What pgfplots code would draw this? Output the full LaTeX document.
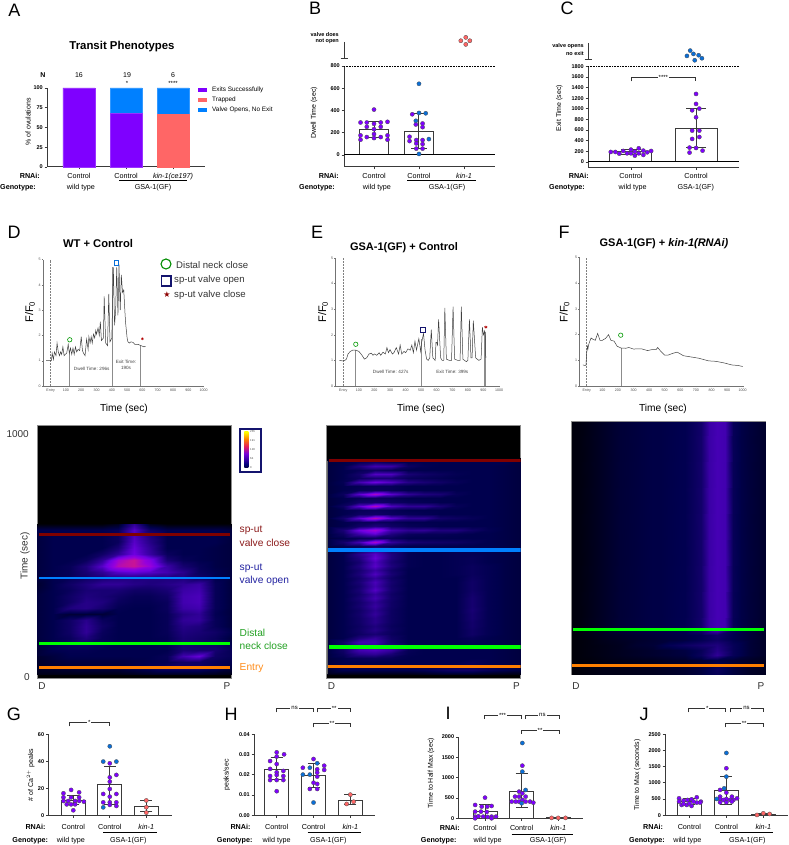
\documentclass[border=0pt]{standalone}
\usepackage{fontspec}
\setmainfont{Liberation Sans}
\newfontfamily\djv{DejaVu Sans}
\usepackage{pgfplots}
\pgfplotsset{compat=1.18}
\definecolor{pp}{HTML}{7F00FF}
\definecolor{bl}{HTML}{0A6FD8}
\definecolor{rd}{HTML}{FF6666}
\definecolor{cb}{HTML}{0080FF}
\definecolor{ax}{HTML}{3A3A3A}
\definecolor{navy2}{HTML}{14146E}
\definecolor{ovo}{HTML}{FF8000}
\newcommand\fs[1]{\fontsize{#1}{#1}\selectfont}
\newcommand\T[4][]{\node[inner sep=0pt,#1] at (#2,845-#3) {#4};}
\newcommand\br[4]{\draw[line width=.7pt,black!80] (#1,845-#3-4)--(#1,845-#3)--(#2,845-#3)--(#2,845-#3-4);
 \node[inner sep=1pt,fill=white,font=\fs{6}] at ({(#1+#2)/2},845-#3) {#4};}
\newcommand\ul[3]{\draw[line width=.7pt,black] (#1,845-#3)--(#2,845-#3);}
\pgfplotsset{
 colormap={fire}{rgb255(0)=(0,0,0) rgb255(1)=(0,0,78) rgb255(2)=(30,0,125) rgb255(3)=(65,0,175) rgb255(4)=(110,0,225) rgb255(5)=(150,0,220) rgb255(6)=(200,20,150) rgb255(7)=(240,60,70) rgb255(8)=(255,140,20) rgb255(9)=(255,220,50) rgb255(10)=(255,255,255)},
 bx/.style={scale only axis,axis x line*=bottom,axis y line*=left,clip=false,
  axis line style={line width=1pt,color=ax},tick style={line width=.8pt,color=ax},
  major tick length=2.5pt,tick align=outside,xtick={0,1,2},
  xticklabel style={font=\fs{7.2}},
  yticklabel style={font=\fs{5.5}\bfseries,inner sep=1.5pt},
  /pgf/number format/assume math mode=true,/pgf/number format/1000 sep={},scaled y ticks=false},
 trace/.style={scale only axis,axis x line*=bottom,axis y line*=left,clip=false,
  axis line style={line width=.5pt,color=black!55},tick style={line width=.4pt,color=black!55},
  major tick length=1.5pt,tick align=outside,ymin=0,ymax=5,xmax=1000,ytick={0,1,2,3,4,5},
  xtick={0,100,200,300,400,500,600,700,800,900,1000},
  xticklabels={Entry,100,200,300,400,500,600,700,800,900,1000},
  ticklabel style={font=\fs{3.6},inner sep=1pt,text=black!70},
  /pgf/number format/assume math mode=true,/pgf/number format/1000 sep={}},
 tl/.style={line width=.5pt,color=black!75},
 drop/.style={line width=.8pt,color=black!45},
 ent/.style={densely dotted,line width=.5pt,color=black!50},
 heat/.style={scale only axis,width=194pt,height=252.6pt,xtick=\empty,ytick=\empty,
  axis line style={line width=.8pt,color=black!45},axis background/.style={fill=black},
  colormap name=fire,point meta min=0,point meta max=10},
 hm/.style={surf,shader=interp,point meta=explicit},
 pd/.style={only marks,mark=*,mark size=2.1pt,mark options={fill=pp,draw=black!70,line width=.3pt}},
 bd/.style={only marks,mark=*,mark size=2.1pt,mark options={fill=bl,draw=black!70,line width=.3pt}},
 rdd/.style={only marks,mark=*,mark size=2.1pt,mark options={fill=rd,draw=black!70,line width=.3pt}},
 barw/.style={ybar,bar width=#1,fill=white,draw=ax,line width=1pt},
 eb/.style={draw=none,mark=none,error bars/y dir=both,error bars/y explicit,
  error bars/error bar style={line width=1pt,color=ax},
  error bars/error mark options={rotate=90,mark size=#1,line width=1pt,color=ax}},
 gl/.style={line width=1pt,color=black},
}
\pgfdeclareverticalshading{fireLUT}{100bp}{color(0bp)=(black); color(20bp)=(black); color(30bp)=(rgb,255:red,0;green,0;blue,120); color(45bp)=(rgb,255:red,120;green,0;blue,220); color(55bp)=(rgb,255:red,230;green,30;blue,90); color(65bp)=(orange); color(75bp)=(yellow); color(80bp)=(white); color(100bp)=(white)}
\begin{document}
\begin{tikzpicture}[x=1pt,y=1pt]
\path[use as bounding box] (0,0) rectangle (788,845);
% ---------- letters
\foreach \l/\x/\y in {A/14.5/10,B/315/8,C/567/8,D/14/232,E/317/232,F/564/232,G/14/714,H/231/714,I/448/713,J/644/714}{\T[font=\fs{18}]{\x}{\y}{\l}}
% ---------- A
\begin{axis}[bx,at={(47pt,845pt-167pt)},anchor=south west,width=158pt,height=79pt,xmin=-.68,xmax=2.68,ymin=0,ymax=100,ytick={0,25,50,75,100},
 ybar stacked,bar width=32pt,xticklabels={Control,Control,{\textit{kin-1(ce197)}}}]
\addplot[fill=pp,draw=pp!80!white] coordinates {(0,100)(1,68)(2,0)};
\addplot[fill=rd,draw=rd] coordinates {(0,0)(1,0)(2,67)};
\addplot[fill=cb,draw=cb!80!white] coordinates {(0,0)(1,32)(2,33)};
\end{axis}
\T[font=\fs{11.4}\bfseries]{122}{47}{Transit Phenotypes}
\T[font=\fs{7}\bfseries]{43}{75.5}{N}
\T[font=\fs{7}]{79}{75}{16}\T[font=\fs{7}]{127}{75}{19}\T[font=\fs{7}]{173}{75}{6}
\T[font=\fs{6}]{127}{83}{*}\T[font=\fs{6}]{173}{83}{****}
\T[font=\fs{7},rotate=90]{28}{122}{\% of ovulations}
\foreach \c/\y/\s in {pp/90/Exits Successfully,rd/100/Trapped,cb/110/{Valve Opens, No Exit}}{
 \fill[\c] (198.3,845-\y-2.3) rectangle (207.3,845-\y+2.3);
 \T[font=\fs{6.4},anchor=west]{212}{\y}{\s}}
\T[font=\fs{7.2}\bfseries,anchor=east]{40}{175.5}{RNAi:}
\T[font=\fs{7.2}\bfseries,anchor=west]{0}{187.3}{Genotype:}
\T[font=\fs{7.2}]{81}{187.3}{wild type}\T[font=\fs{7.2}]{153}{187.3}{GSA-1(GF)}
\ul{119}{187}{180.7}
% ---------- B
\begin{axis}[bx,at={(344pt,845pt-167pt)},anchor=south west,width=151pt,height=101pt,xmin=-.667,xmax=2.69,ymin=-108,ymax=800,ytick={0,200,400,600,800},
 xticklabels={Control,Control,{\textit{kin-1}}}]
\addplot[barw=29pt] coordinates {(0,225)(1,215)};
\addplot[gl] coordinates {(-.667,0)(2.69,0)};
\addplot[densely dotted,line width=.6pt,black] coordinates {(-.667,800)(2.69,800)};
\addplot[eb=8pt] coordinates {(0,225) +=(0,75) -=(0,65) (1,215) +=(0,160) -=(0,155)};
\addplot[pd] coordinates {(0,408)(-.30,292)(-.16,292)(.15,292)(.30,298)(0,280)(-.16,253)(.15,253)(0,232)(-.16,161)(.15,161)(0,188)(-.30,176)(.30,176)(-.30,137)(.30,137)(0,152)
 (.85,366)(.93,274)(1.08,283)(1.08,250)(.79,164)(.94,134)(1.08,134)(.79,125)(.94,104)(1.08,98)(.94,57)(1.08,57)};
\addplot[bd] coordinates {(1,640)(1,378)(1.15,375)(.93,307)(1.22,143)(1,9)};
\addplot[rdd] coordinates {(2.04,1057)(1.93,1027)(2.13,1027)(2.04,994)};
\end{axis}
\draw[line width=1pt,ax] (344,845-42)--(344,845-59) (340.5,845-59)--(347.5,845-59);
\T[font=\fs{5.5}\bfseries,anchor=east]{339}{34.3}{valve does}\T[font=\fs{5.5}\bfseries,anchor=east]{339}{41.7}{not open}
\T[font=\fs{7},rotate=90]{314}{113}{Dwell Time (sec)}
\T[font=\fs{7.2}\bfseries,anchor=east]{339}{175.5}{RNAi:}
\T[font=\fs{7.2}\bfseries,anchor=west]{299}{187.3}{Genotype:}
\T[font=\fs{7.2}]{377}{187.3}{wild type}\T[font=\fs{7.2}]{447}{187.3}{GSA-1(GF)}
\ul{407}{476}{180.7}
% ---------- C
\begin{axis}[bx,at={(588pt,845pt-167.3pt)},anchor=south west,width=151pt,height=101pt,xmin=-.66,xmax=1.66,ymin=-100,ymax=1800,ytick={0,200,400,600,800,1000,1200,1400,1600,1800},xtick={0,1},
 xticklabels={Control,Control}]
\addplot[barw=42pt] coordinates {(0,190)(1,625)};
\addplot[gl] coordinates {(-.66,0)(1.66,0)};
\addplot[densely dotted,line width=.6pt,black] coordinates {(-.66,1800)(1.66,1800)};
\addplot[eb=10pt] coordinates {(0,190) +=(0,40) -=(0,45) (1,625) +=(0,380) -=(0,360)};
\addplot[pd] coordinates {(-.31,188)(-.24,188)(-.18,157)(-.12,207)(-.06,163)(0,232)(.06,194)(.12,257)(.19,213)(.25,182)(.31,207)(0,163)(.12,163)(.06,119)(.19,132)
 (1,1280)(1,1092)(.94,972)(1.05,1004)(1,841)(.94,590)(1.05,590)(.94,433)(1.05,470)(.9,270)(1,263)(.9,176)(1.1,213)};
\addplot[bd] coordinates {(.91,2095)(.96,2033)(1.04,2008)(.86,1995)(1.09,1951)(.98,1913)};
\end{axis}
\draw[line width=1pt,ax] (588,845-43)--(588,845-60) (584.5,845-60)--(591.5,845-60);
\T[font=\fs{5.5}\bfseries,anchor=east]{584}{46}{valve opens}\T[font=\fs{5.5}\bfseries,anchor=east]{584}{54}{no exit}
\br{631}{695.7}{77.3}{****}
\T[font=\fs{7},rotate=90]{559.3}{108}{Exit Time (sec)}
\T[font=\fs{7.2}\bfseries,anchor=east]{589}{175.5}{RNAi:}
\T[font=\fs{7.2}\bfseries,anchor=west]{549}{187.3}{Genotype:}
\T[font=\fs{7.2}]{632.7}{187.3}{wild type}\T[font=\fs{7.2}]{695.7}{187.3}{GSA-1(GF)}
% ---------- D trace
\begin{axis}[trace,at={(43.3pt,845pt-386pt)},anchor=south west,width=160.3pt,height=126.3pt,xmin=-48]
\addplot[ent] coordinates {(0,0)(0,5)};
\addplot[drop] coordinates {(120,0)(120,1.35)};
\addplot[drop,line width=1.2pt] coordinates {(405,0)(405,4.7)};
\addplot[drop] coordinates {(590,0)(590,1.6)};
\addplot[tl] coordinates {(-30,1)(-10,1)(0,1)(5,1)(10,1.3)(18,1.05)(25,1.35)(35,1.2)(42,1.7)(50,1.35)(58,1.2)(65,1.35)(72,1.25)(80,1.55)(88,1.2)(95,1.25)(105,1.3)(115,1.65)(122,1.3)(130,1.5)(138,1.25)(146,1.5)(154,1.25)(162,1.55)(170,1.35)(180,1.45)(190,1.4)(200,1.95)(208,1.4)(215,1.3)(225,1.2)(235,1.85)(245,1.45)(250,1.95)(258,1.7)(265,1.95)(272,1.7)(280,2.05)(288,1.9)(295,2.2)(300,2.05)(310,2.3)(318,2)(325,2.55)(332,1.8)(345,1.9)(350,3.55)(360,1.7)(372,1.6)(380,3.65)(388,1.75)(400,1.9)(410,4.7)(418,2.4)(425,3)(432,4.7)(440,2.8)(447,4.8)(455,3)(462,4.4)(470,3.7)(478,3.8)(485,3)(490,2.5)(500,1.9)(505,1.75)(515,1.7)(525,1.75)(540,1.72)(550,1.65)(570,1.65)(590,1.6)(610,1.55)(620,1.57)};
\addplot[only marks,mark=o,mark size=2.2pt,mark options={draw=green!60!black,line width=.6pt}] coordinates {(125,1.83)};
\addplot[only marks,mark=square,mark size=2.2pt,mark options={draw=bl,line width=.6pt}] coordinates {(430,4.87)};
\addplot[only marks,mark=asterisk,mark size=1.4pt,mark options={draw=red!70!black,line width=.4pt}] coordinates {(600,1.87)};
\end{axis}
\T[font=\fs{11.2}\bfseries]{98}{244}{WT + Control}
\T[font=\fs{11},rotate=90]{30}{312}{F/F$_{\mathrm{0}}$}
\T[font=\fs{10.2}]{124}{409}{Time (sec)}
\T[font=\fs{4.6},text=black!75]{91.7}{369}{Dwell Time: 296s}
\T[font=\fs{4.6},text=black!75]{126}{362}{Exit Time:}\T[font=\fs{4.6},text=black!75]{126}{368}{190s}
\draw[green!55!black,line width=1.1pt] (166,845-264) circle (5);
\T[font=\fs{9.6},anchor=west,text=black!80]{176}{265}{Distal neck close}
\draw[navy2,line width=1.2pt] (161.3,845-286) rectangle (171,845-276);
\T[font=\fs{9.6},anchor=west,text=black!80]{174}{280}{sp-ut valve open}
\T[font=\fs{8}\djv,text=red!55!black]{167}{295}{★}
\T[font=\fs{9.6},anchor=west,text=black!80]{174}{295}{sp-ut valve close}
% ---------- E trace
\begin{axis}[trace,at={(335.7pt,845pt-386pt)},anchor=south west,width=163.3pt,height=128pt,xmin=-49]
\addplot[ent] coordinates {(0,0)(0,5)};
\addplot[drop] coordinates {(78,0)(78,1.4)};
\addplot[drop] coordinates {(503,0)(503,1.85)};
\addplot[drop,line width=1.2pt] coordinates {(910,0)(910,2.1)};
\addplot[tl] coordinates {(-25,1)(-5,.98)(10,1)(20,1.05)(30,1.25)(45,1.35)(60,1.4)(80,1.4)(100,1.35)(120,1.2)(135,1.05)(150,1.1)(165,1.25)(180,1.28)(190,1.2)(200,1.25)(215,1.2)(230,1.3)(240,1.2)(255,1.32)(270,1.25)(280,1.5)(290,1.3)(300,1.42)(315,1.25)(325,1.3)(340,1.5)(355,1.25)(365,1.6)(375,1.25)(390,1.35)(400,1.3)(415,1.45)(430,1.4)(440,1.6)(450,1.3)(460,1.75)(470,1.4)(485,1.85)(497,1.35)(503,1.7)(515,2.05)(525,1.4)(535,1.05)(545,1)(555,1.1)(565,2.2)(575,1.1)(590,1)(595,1.7)(600,1.7)(605,1.6)(612,2.6)(625,1.1)(635,1)(645,1)(652,3.05)(662,1.05)(680,1)(695,1)(705,3.1)(715,1.05)(735,1)(750,1)(758,3.1)(768,1.05)(790,.95)(800,1)(810,2.6)(820,1.1)(827,1.1)(835,2.55)(850,1.1)(870,1)(885,1.05)(893,2.3)(900,2)(908,2.15)(913,1.9)(915,1.1)};
\addplot[only marks,mark=o,mark size=2.2pt,mark options={draw=green!60!black,line width=.6pt}] coordinates {(80,1.63)};
\addplot[only marks,mark=square,mark size=2.2pt,mark options={draw=navy2,line width=.6pt}] coordinates {(510,2.2)};
\addplot[only marks,mark=asterisk,mark size=1.6pt,mark options={draw=red!70!black,line width=.5pt}] coordinates {(915,2.3)};
\end{axis}
\T[font=\fs{11}\bfseries]{404}{248}{GSA-1(GF) + Control}
\T[font=\fs{11},rotate=90]{323}{312}{F/F$_{\mathrm{0}}$}
\T[font=\fs{10.2}]{421}{409}{Time (sec)}
\T[font=\fs{4.6},text=black!75]{390.7}{372}{Dwell Time: 427s}
\T[font=\fs{4.6},text=black!75]{452.3}{372}{Exit Time: 399s}
% ---------- F trace
\begin{axis}[trace,at={(579.7pt,845pt-386pt)},anchor=south west,width=163pt,height=128.3pt,xmin=-45]
\addplot[ent] coordinates {(0,0)(0,5)};
\addplot[drop] coordinates {(222,0)(222,1.5)};
\addplot[tl] coordinates {(-25,.82)(-10,.8)(-5,.8)(0,1.3)(5,1.55)(8,1.45)(12,1.6)(20,1.75)(28,1.87)(40,1.82)(55,1.78)(70,2.05)(85,1.78)(100,1.78)(120,1.85)(140,2)(155,1.78)(175,1.75)(195,1.55)(220,1.48)(250,1.47)(270,1.5)(300,1.44)(350,1.45)(390,1.38)(420,1.42)(445,1.42)(455,1.5)(475,1.35)(500,1.2)(520,1.2)(550,1.27)(580,1.32)(620,1.18)(680,1.12)(720,1.08)(780,.98)(830,.96)(880,.9)(930,.82)(970,.8)(1000,.76)};
\addplot[only marks,mark=o,mark size=2.2pt,mark options={draw=green!60!black,line width=.6pt}] coordinates {(218,1.98)};
\end{axis}
\T[font=\fs{11}\bfseries]{664}{244}{GSA-1(GF) + \textit{kin-1(RNAi)}}
\T[font=\fs{11},rotate=90]{564.5}{312}{F/F$_{\mathrm{0}}$}
\T[font=\fs{10.2}]{663}{409}{Time (sec)}
% ---------- heat D
\begin{axis}[heat,at={(37.3pt,845pt-678.3pt)},anchor=south west,xmin=0,xmax=12,ymin=-16.7,ymax=1036]
\addplot[hm,mesh/cols=13] table[row sep=crcr,header=false,x expr={mod(\coordindex,13)},y expr={625-25*floor(\coordindex/13)},meta index=0]{
.1\\.1\\.1\\.1\\.1\\.4\\2.5\\.4\\.1\\.1\\.1\\.1\\.1\\
1\\1\\1\\1\\1\\1.2\\3.5\\1.5\\1\\1\\1\\1\\.8\\
.8\\1\\1\\1\\1\\1.3\\3.3\\2\\1\\1\\1\\1\\.8\\
.8\\1\\1\\1\\1\\1.3\\3.5\\2.2\\1\\1\\1\\1\\.8\\
.8\\1\\1\\1\\1\\1.8\\3.8\\2.5\\1\\1\\1\\.9\\.8\\
.8\\1\\1\\1\\1.5\\2.5\\4\\2.7\\1.3\\1\\1\\.9\\.8\\
.8\\1\\1\\1.3\\2.5\\5.2\\6\\4.5\\1.8\\1.2\\1\\.9\\.8\\
.8\\1\\1.2\\2\\3.5\\5.6\\6\\5\\2.8\\1.7\\1.2\\.9\\.8\\
.8\\1\\1.2\\1.8\\2.5\\3.5\\3.8\\3.5\\3\\2.3\\1.3\\1\\.8\\
.8\\1\\1.2\\1.5\\1.8\\2\\2\\2\\2\\2\\1.5\\1\\.8\\
.6\\1\\1.5\\2\\2.5\\2.5\\2.2\\2\\2.2\\2.5\\2.8\\1.2\\.8\\
.6\\1\\1.3\\1.8\\1.8\\1.8\\1.5\\1.5\\1.8\\2.8\\3\\1.2\\.8\\
.8\\1\\1.5\\2\\1.8\\1.5\\1.2\\1.2\\1.5\\3\\3.2\\1.2\\.8\\
.8\\1\\1.5\\2.2\\2\\1.3\\1.1\\1.1\\1.3\\3\\3.2\\1.2\\.8\\
.8\\1\\2\\2.2\\1.7\\1.1\\1\\1\\1.3\\2.8\\3\\1.2\\.8\\
.8\\1\\.7\\.7\\.7\\1\\1\\1\\1.2\\2.2\\2.5\\1.1\\.8\\
.8\\1\\1.5\\2.3\\1.3\\1\\1\\1\\1.2\\2.5\\2.6\\1.2\\.8\\
.8\\1\\1.5\\2.5\\1.5\\1\\1\\1\\1.2\\2.2\\2\\1.2\\.8\\
.8\\1\\1.5\\2.5\\1.3\\1\\1\\1\\1.2\\2\\1.8\\1.5\\1\\
.8\\1\\1.3\\2\\1.2\\1\\1\\1\\1.1\\1.8\\1.6\\1.3\\.8\\
.7\\1\\1.3\\1.4\\1.2\\1\\1\\1\\1.1\\1.8\\1.6\\1.5\\1\\
.7\\1\\1.1\\1.1\\1\\1\\1\\1\\1\\1.8\\1.7\\1.7\\1.2\\
.7\\.8\\1\\1\\1\\1\\1\\1\\1.2\\3\\3.8\\1.5\\1.2\\
.6\\.7\\.8\\.8\\.8\\.8\\.9\\1\\1.1\\1.5\\1.5\\1.2\\1\\
.5\\.6\\.7\\.8\\.8\\.8\\1\\1.2\\1.5\\1.5\\1.5\\1.2\\.8\\
.3\\.3\\.3\\.3\\.3\\.3\\.4\\.5\\.5\\.5\\.5\\.4\\.3\\
};
\addplot[line width=2.6pt,color=red!50!black] coordinates {(.13,583)(11.95,583)};
\addplot[line width=2.6pt,color=cb] coordinates {(.13,401)(11.95,401)};
\addplot[line width=2.6pt,color=green] coordinates {(.13,129)(11.95,129)};
\addplot[line width=2.6pt,color=ovo] coordinates {(.13,29)(11.95,29)};
\end{axis}
\fill[navy2] (239,845-473.3) rectangle (261.7,845-428.3);
\fill[white] (241,845-471.5) rectangle (259.5,845-430);
\shade[shading=fireLUT] (244.3,845-468) rectangle (248.3,845-432);
\foreach \v/\y in {255/432,191/441,128/450,64/459,0/468}{\T[font=\fs{2.8},anchor=west,text=black!70]{250}{\y}{\v}}
\T[font=\fs{10},anchor=east,text=black!80]{29}{434}{1000}
\T[font=\fs{10},anchor=east,text=black!80]{30}{677}{0}
\T[font=\fs{10},rotate=90,text=black!80]{25}{556}{Time (sec)}
\T[font=\fs{10},text=black!80]{42}{686}{D}\T[font=\fs{10},text=black!80]{227}{686}{P}
\definecolor{lr}{HTML}{8B1A1A}\definecolor{lb}{HTML}{2222A0}\definecolor{lg}{HTML}{22A022}\definecolor{lo}{HTML}{FF8C1A}
\T[font=\fs{10.2},anchor=west,text=lr]{239.5}{530}{sp-ut}\T[font=\fs{10.2},anchor=west,text=lr]{239.5}{543}{valve close}
\T[font=\fs{10.2},anchor=west,text=lb]{239.5}{568}{sp-ut}\T[font=\fs{10.2},anchor=west,text=lb]{239.5}{581}{valve open}
\T[font=\fs{10.2},anchor=west,text=lg]{239.5}{633}{Distal}\T[font=\fs{10.2},anchor=west,text=lg]{239.5}{646}{neck close}
\T[font=\fs{10.2},anchor=west,text=lo]{239.5}{668}{Entry}
% ---------- heat E
\begin{axis}[heat,at={(326.7pt,845pt-678.3pt)},anchor=south west,xmin=0,xmax=12,ymin=-16.7,ymax=1036]
\addplot[hm,mesh/cols=13] table[row sep=crcr,header=false,x expr={mod(\coordindex,13)},y expr={900-16.667*floor(\coordindex/13)},meta index=0]{
.1\\.1\\.1\\.1\\.1\\.1\\.1\\.1\\.1\\.1\\.1\\.1\\.1\\
.8\\.9\\1.2\\1.5\\1.2\\1\\1\\1\\1\\1\\1\\1\\.8\\
.8\\1\\2\\3\\2.8\\1.4\\1.1\\1\\1\\1\\1\\.9\\.8\\
.8\\1\\1.2\\1.5\\1.3\\1\\1\\1\\1\\1\\1\\.9\\.8\\
.8\\1\\1.6\\3.4\\3.3\\1.8\\1.5\\1.3\\1.1\\1\\1\\.9\\.8\\
.8\\1\\1.4\\1.8\\1.8\\1.3\\1.2\\1.1\\1\\1\\1\\.9\\.8\\
.8\\1.1\\3\\4\\3.4\\2.2\\1.8\\1.5\\1.2\\1\\1\\.9\\.8\\
.8\\1\\1.1\\1.2\\1.2\\1\\1\\1\\1\\1\\1\\.9\\.8\\
.8\\1\\1.2\\1.3\\1.2\\1\\1\\1\\1\\1\\1\\.9\\.8\\
.8\\1.3\\3.6\\5.4\\3.6\\2.5\\2\\1.8\\1.2\\1\\1\\.9\\.8\\
.8\\1\\1.2\\1.3\\1.2\\1\\1\\1\\1\\1\\1\\.9\\.8\\
.8\\1\\1.5\\1.6\\1.4\\1.2\\1.1\\1\\1\\1\\1\\.9\\.8\\
.8\\1.4\\3.6\\5.6\\3.3\\2.5\\2.5\\1.8\\1.2\\1\\1\\.9\\.8\\
.8\\1\\1.2\\1.3\\1.2\\1\\1\\1\\1\\1\\1\\.9\\.8\\
.8\\1\\1.4\\1.5\\1.3\\1.2\\1.1\\1\\1\\1\\1\\.9\\.8\\
.8\\1.6\\3.6\\5.6\\3.6\\2.5\\2.5\\1.6\\1.4\\1.2\\1\\.9\\.8\\
.8\\1\\1.2\\1.3\\1.2\\1\\1\\1\\1\\1\\1\\.9\\.8\\
.8\\1\\1.5\\2\\1.5\\1.2\\1.1\\1\\1\\1\\1\\.9\\.8\\
.8\\1.8\\4\\5.2\\3\\2.4\\2.5\\2\\2\\1.5\\1.1\\.9\\.8\\
.8\\1.4\\2.8\\3.6\\2\\1.3\\1.2\\1.2\\1.1\\1\\1\\.9\\.8\\
.8\\1\\1.2\\1.4\\1.3\\1\\1\\1\\1\\1\\1\\.9\\.8\\
.8\\1.6\\3\\5.4\\2.6\\1.8\\1.6\\1.5\\1.4\\1.2\\1\\.9\\.8\\
.8\\1\\1.2\\1.5\\1.2\\1\\1\\1\\1\\1\\1\\.9\\.8\\
.8\\1\\1.5\\2.5\\1.5\\1.1\\1\\1\\1.1\\1.1\\1\\.9\\.8\\
.8\\1\\2.3\\3.5\\2\\1.1\\1\\1\\1.1\\1.1\\1\\.9\\.8\\
.8\\1\\2\\3.8\\2\\1.1\\1\\1\\1.1\\1.2\\1\\.9\\.8\\
.8\\1\\1.7\\3.3\\1.8\\1.1\\1\\1\\1.1\\1.2\\1\\.9\\.8\\
.8\\1\\2\\3.5\\2\\1.1\\1\\1\\1.1\\1.3\\1.1\\.9\\.8\\
.8\\1\\1.7\\2.8\\1.6\\1\\1\\1\\1.1\\1.3\\1.1\\.9\\.8\\
.8\\1\\1.9\\3.3\\1.8\\1\\1\\1\\1.1\\1.3\\1.1\\.9\\.8\\
.8\\1\\1.6\\2.6\\1.5\\1\\1\\1\\1\\1.4\\1.1\\.9\\.8\\
.8\\1\\1.8\\3.2\\1.7\\1\\1\\1\\1\\1.5\\1.1\\.9\\.8\\
.8\\1\\1.6\\3\\1.6\\1\\1\\1\\1\\1.5\\1.1\\.9\\.8\\
.8\\1\\1.8\\3.4\\1.7\\1\\1\\1\\1\\1.5\\1.1\\.9\\.8\\
.8\\1\\1.6\\2.7\\1.5\\1\\1\\1\\1\\1.6\\1.1\\.9\\.8\\
.8\\1\\1.8\\3\\1.6\\1\\1\\1\\1\\1.7\\1.1\\.9\\.8\\
.8\\1\\1.6\\2.5\\1.5\\1\\1\\1\\1\\1.7\\1.1\\.9\\.8\\
.8\\1\\1.7\\2.7\\1.5\\1\\1\\1\\1\\1.7\\1.1\\.9\\.8\\
.8\\1\\1.5\\2.4\\1.4\\1\\1\\1\\1\\1.8\\1.1\\.9\\.8\\
.8\\1\\1.6\\2.6\\1.4\\1\\1\\1\\1\\1.7\\1.1\\.9\\.8\\
.8\\1\\1.5\\2.3\\1.4\\1\\1\\1\\1\\1.7\\1.1\\.9\\.8\\
.8\\1\\1.5\\2.3\\1.4\\1\\1\\1\\1\\1.6\\1.1\\.9\\.8\\
.8\\1\\1.4\\2\\1.3\\1\\1\\1\\1\\1.6\\1.1\\.9\\.8\\
.8\\1\\1.5\\2.2\\1.4\\1\\1\\1\\1\\1.5\\1.1\\.9\\.8\\
.8\\1\\1.4\\1.8\\1.3\\1\\1\\1\\1\\1.5\\1.1\\.9\\.8\\
.8\\1\\2\\2.6\\1.5\\1\\1\\1\\1\\1.2\\1\\.9\\.8\\
.8\\1.5\\3\\3\\1.6\\1\\1\\1\\1\\1.1\\1\\.9\\.8\\
.8\\1.3\\2.5\\2.7\\2\\1.1\\1\\1\\1\\1\\1\\.9\\.8\\
.8\\1.5\\3\\3.3\\2.7\\1.2\\1\\1\\1\\1\\1\\.9\\.8\\
.8\\1.3\\2.3\\2.5\\1.8\\1.1\\1\\1\\1\\1\\1\\.9\\.8\\
.8\\1\\1.2\\1.3\\1.2\\1\\1\\1\\1\\1\\1\\.9\\.8\\
.8\\1\\1\\1\\1\\1\\1\\1\\1\\1.2\\1\\.9\\.8\\
.8\\1\\1\\1\\1\\1\\1\\1\\1.1\\1.2\\1\\.9\\.8\\
.8\\1\\1\\1\\1\\1\\1.1\\1.3\\1.5\\1.5\\1.2\\1\\.8\\
.3\\.3\\.3\\.3\\.3\\.3\\.4\\.5\\.5\\.5\\.4\\.3\\.3\\
};
\addplot[line width=1pt,color=black!60] coordinates {(0.06,0)(0.06,890)};
\addplot[line width=3.4pt,color=red!50!black] coordinates {(.13,891)(12,891)};
\addplot[line width=3.4pt,color=cb] coordinates {(.06,518)(12,518)};
\addplot[line width=3.4pt,color=green] coordinates {(.13,113)(12,113)};
\addplot[line width=3.4pt,color=ovo] coordinates {(.06,33)(12,33)};
\end{axis}
\T[font=\fs{10},text=black!80]{331.5}{686}{D}\T[font=\fs{10},text=black!80]{516.5}{686}{P}
% ---------- heat F
\begin{axis}[heat,at={(571.7pt,845pt-674.3pt)},anchor=south west,xmin=0,xmax=24,ymin=0,ymax=1052.8,height=252.6pt]
\addplot[hm,mesh/cols=25] table[row sep=crcr,header=false,x expr={mod(\coordindex,25)},y expr={1052.8-(1052.8-185)*floor(\coordindex/25)},meta index=0]{
.15\\.2\\.3\\.4\\.5\\.6\\.7\\.75\\.8\\.85\\.9\\.9\\.95\\1\\1.05\\1.3\\1.6\\2.8\\3.1\\3\\1.2\\.9\\.75\\.65\\.55\\
.15\\.2\\.3\\.4\\.5\\.6\\.7\\.75\\.8\\.85\\.9\\.9\\.95\\1\\1.05\\1.3\\1.6\\2.8\\3.1\\3\\1.2\\.9\\.75\\.65\\.55\\
};
\addplot[hm,mesh/cols=13] table[row sep=crcr,header=false,x expr={2*mod(\coordindex,13)},y expr={185-20.83*floor(\coordindex/13)},meta index=0]{
.15\\.3\\.5\\.7\\.8\\.9\\.95\\1.05\\1.6\\3.1\\1.2\\.75\\.55\\
.1\\.25\\.4\\.5\\.6\\.7\\.8\\.9\\1.1\\1.6\\1\\.7\\.5\\
.1\\.2\\.35\\.45\\.55\\.65\\.75\\.85\\1.1\\1.5\\1\\.7\\.5\\
.1\\.2\\.3\\.4\\.6\\.7\\1.1\\1.4\\1.7\\2\\1.2\\.7\\.5\\
.1\\.2\\.3\\.4\\.5\\.6\\.7\\.85\\1.2\\2.2\\1.2\\.7\\.5\\
.1\\.2\\.3\\.4\\.5\\.6\\.7\\.8\\1.3\\2.5\\1.2\\.7\\.5\\
.1\\.15\\.25\\.3\\.35\\.4\\.5\\.55\\.7\\.9\\.7\\.5\\.4\\
.1\\.15\\.25\\.3\\.35\\.4\\.5\\.55\\.7\\1\\.7\\.5\\.4\\
.1\\.2\\.3\\.3\\.35\\.4\\.5\\.6\\.8\\1.3\\.8\\.5\\.4\\
.1\\.2\\.3\\.3\\.35\\.4\\.5\\.6\\.8\\1.2\\.8\\.5\\.4\\
};
\addplot[line width=3.3pt,color=green] coordinates {(.15,188)(23.8,188)};
\addplot[line width=3.3pt,color=ovo] coordinates {(0,37)(23.8,37)};
\end{axis}
\T[font=\fs{10},text=black!80]{576}{686}{D}\T[font=\fs{10},text=black!80]{761}{686}{P}
% ---------- G
\begin{axis}[bx,at={(48.3pt,845pt-815.3pt)},anchor=south west,width=123.4pt,height=81pt,xmin=-.685,xmax=2.696,ymin=0,ymax=60,ytick={0,20,40,60},
 xticklabels={Control,Control,{\textit{kin-1}}},xticklabel style={yshift=-3pt}]
\addplot[barw=24pt] coordinates {(0,11)(1,22.5)(2,6.5)};
\addplot[eb=6pt] coordinates {(0,11) +=(0,3.5) -=(0,3) (1,22.5) +=(0,14) -=(0,14.5) (2,6.5) +=(0,4.5) -=(0,4)};
\addplot[pd] coordinates {(-.06,18.8)(-.27,16.3)(.16,17)(-.27,13.3)(-.06,13.3)(.16,13.3)(-.27,10.6)(-.14,10.6)(.05,10.6)(.16,10.6)(.29,10.1)(-.18,8.1)(-.06,8.1)(.05,8.1)(0,3.7)
 (1,38.5)(1.18,29.9)(1,28.1)(1,24.9)(1,19.5)(.82,15.8)(1.18,15.8)(1,13.8)(.82,9.6)(1,9.6)(1.18,9.6)(1,7.7)(1.18,6.9)};
\addplot[bd] coordinates {(1,51.1)(.82,39.8)(1.18,39.8)(.82,5.9)};
\addplot[rdd] coordinates {(2,11)(2,6)(2,2)};
\end{axis}
\br{69.3}{109.3}{722.3}{*}
\T[font=\fs{7},rotate=90]{30.7}{775}{\# of Ca$^{2+}$ peaks}
\T[font=\fs{7.2}\bfseries,anchor=east]{45.7}{826.7}{RNAi:}
\T[font=\fs{7.2}\bfseries,anchor=west]{12.3}{840.3}{Genotype:}
\T[font=\fs{7.2}]{71}{840.3}{wild type}\T[font=\fs{7.2}]{128.3}{840.3}{GSA-1(GF)}
\ul{103}{157}{832}
% ---------- H
\begin{axis}[bx,at={(254pt,845pt-815.3pt)},anchor=south west,width=121pt,height=81pt,xmin=-.617,xmax=2.67,ymin=0,ymax=.04,ytick={0,.01,.02,.03,.04},
 xticklabels={Control,Control,{\textit{kin-1}}},xticklabel style={yshift=-3pt},yticklabel style={/pgf/number format/fixed,/pgf/number format/precision=2,/pgf/number format/fixed zerofill}]
\addplot[barw=24pt] coordinates {(0,.0225)(1,.0195)(2,.0075)};
\addplot[eb=6pt] coordinates {(0,.0225) +=(0,.006) -=(0,.005) (1,.0195) +=(0,.006) -=(0,.006) (2,.0075) +=(0,.003) -=(0,.002)};
\addplot[pd] coordinates {(0,.0311)(0,.029)(.2,.0301)(-.18,.0268)(0,.0253)(-.18,.0229)(0,.0212)(.18,.0219)(-.18,.0194)(.18,.0194)(0,.0199)(-.18,.0174)(0,.0174)(.18,.0174)(0,.0119)
 (1,.0278)(.71,.0235)(1.29,.0245)(1.29,.0224)(1.1,.0227)(1.1,.0211)(1.1,.0191)(1,.0161)(1.1,.0155)(.9,.013)(1.1,.013)};
\addplot[bd] coordinates {(.9,.0235)(1.1,.0257)(.71,.0201)(.9,.0201)(1,.0063)};
\addplot[rdd] coordinates {(2,.0102)(2.09,.0067)(1.9,.0056)};
\end{axis}
\br{276}{313.3}{708.3}{ns}\br{317.7}{350.7}{708.3}{**}\br{313.3}{350.7}{723.3}{**}
\T[font=\fs{7},rotate=90]{226.7}{775}{peaks/sec}
\T[font=\fs{7.2}\bfseries,anchor=east]{250.7}{826.7}{RNAi:}
\T[font=\fs{7.2}\bfseries,anchor=west]{216.7}{840.3}{Genotype:}
\T[font=\fs{7.2}]{276.7}{840.3}{wild type}\T[font=\fs{7.2}]{328.3}{840.3}{GSA-1(GF)}
\ul{307.7}{360.7}{832}
% ---------- I
\begin{axis}[bx,at={(458.3pt,845pt-818.3pt)},anchor=south west,width=125pt,height=81.3pt,xmin=-.73,xmax=2.686,ymin=0,ymax=2000,ytick={0,500,1000,1500,2000},
 xticklabels={Control,Control,{\textit{kin-1}}},xticklabel style={yshift=-1pt}]
\addplot[barw=24pt] coordinates {(0,175)(1,660)(2,10)};
\addplot[eb=6pt] coordinates {(0,175) +=(0,170) -=(0,175) (1,660) +=(0,430) -=(0,400) (2,10) +=(0,10) -=(0,10)};
\addplot[pd] coordinates {(0,508)(-.27,328)(-.09,287)(.06,287)(.18,303)(-.27,164)(-.11,164)(.05,156)(-.27,41)(-.18,49)(-.05,41)(.07,33)(.18,41)(.3,41)(-.27,0)(.18,0)
 (1.02,1295)(.93,656)(1.02,615)(.82,533)(.93,533)(1.11,533)(1.02,451)(.73,410)(.84,410)(.93,410)(1.11,410)(1.23,410)(1.32,385)};
\addplot[bd] coordinates {(1.02,1852)(1.02,1148)(1.11,697)(1,369)};
\addplot[rdd] coordinates {(1.82,10)(2,10)(2.2,10)};
\end{axis}
\br{484}{521}{715}{***}\br{525.7}{559}{715}{ns}\br{521}{559}{730}{**}
\T[font=\fs{7},rotate=90]{431}{773}{Time to Half Max (sec)}
\T[font=\fs{7.2}\bfseries,anchor=east]{460}{828.3}{RNAi:}
\T[font=\fs{7.2}\bfseries,anchor=west]{420.7}{840.7}{Genotype:}
\T[font=\fs{7.2}]{487.7}{840.7}{wild type}\T[font=\fs{7.2}]{548}{840.7}{GSA-1(GF)}
\ul{511.7}{573.3}{834}
% ---------- J
\begin{axis}[bx,at={(665pt,845pt-815.3pt)},anchor=south west,width=122.7pt,height=81pt,xmin=-.66,xmax=2.66,ymin=0,ymax=2500,ytick={0,500,1000,1500,2000,2500},
 xticklabels={Control,Control,{\textit{kin-1}}},xticklabel style={yshift=-3pt}]
\addplot[barw=24pt] coordinates {(0,430)(1,750)(2,40)};
\addplot[eb=6pt] coordinates {(0,430) +=(0,95) -=(0,90) (1,750) +=(0,440) -=(0,410) (2,40) +=(0,30) -=(0,30)};
\addplot[pd] coordinates {(-.28,525)(-.28,422)(-.16,453)(-.05,473)(.06,494)(.2,556)(.31,422)(-.21,319)(-.07,319)(.06,288)(.2,391)(.29,391)(.11,422)(0,370)(-.16,350)
 (1,1451)(.83,782)(1,700)(.83,576)(1.15,576)(1,504)(.83,504)(1.29,525)(1.19,473)(.92,473)(1.1,473)(.83,401)(1,401)(1.15,422)};
\addplot[bd] coordinates {(1,1924)(1,1193)(.94,833)(.74,504)};
\addplot[rdd] coordinates {(1.83,10)(2,62)(2.17,41)};
\end{axis}
\br{688.7}{725.7}{708.3}{*}\br{730}{763}{708.3}{ns}\br{725.3}{763}{723.3}{**}
\T[font=\fs{7},rotate=90]{637.3}{775}{Time to Max (seconds)}
\T[font=\fs{7.2}\bfseries,anchor=east]{663.3}{826.7}{RNAi:}
\T[font=\fs{7.2}\bfseries,anchor=west]{629}{840.3}{Genotype:}
\T[font=\fs{7.2}]{687.3}{840.3}{wild type}\T[font=\fs{7.2}]{747.3}{840.3}{GSA-1(GF)}
\ul{720}{772.7}{832}
\end{tikzpicture}
\end{document}
